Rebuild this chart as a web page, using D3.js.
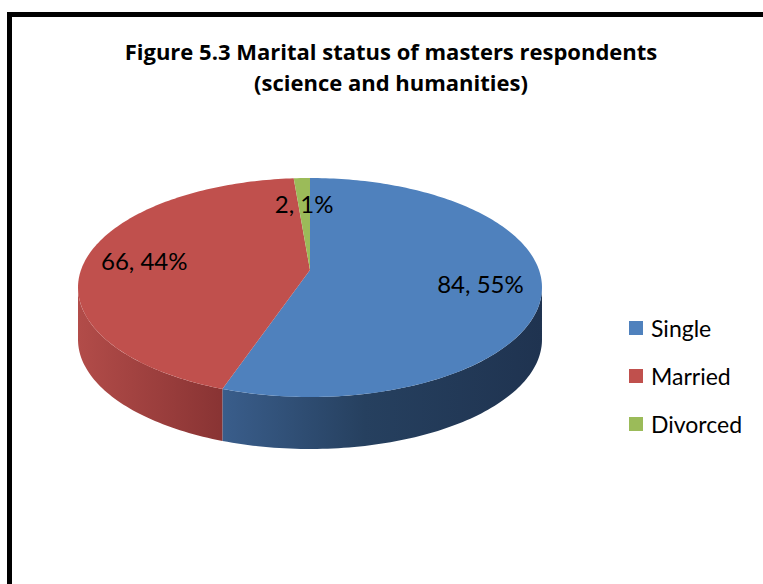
<!DOCTYPE html>
<html>
<head>
<meta charset="utf-8">
<script src="https://cdn.jsdelivr.net/npm/d3@7"></script>
<style>
  html, body { margin: 0; padding: 0; background: #fff; }
  svg { display: block; font-family: Lato, "Open Sans", sans-serif; }
</style>
</head>
<body>
<div id="chart"></div>
<script>
// data
const categories = ["Single", "Married", "Divorced"];
const counts = [84, 66, 2];
const percents = [55, 44, 1];

const titleLines = ["Figure 5.3 Marital status of masters respondents", "(science and humanities)"];

// styling
const topColors = ["#4f81bd", "#c0504d", "#9bbb59"];
const sideStops = [
    [["0%", "#3a5e8c"], ["45%", "#26405f"], ["100%", "#1f3350"]],
    [["0%", "#b24c49"], ["100%", "#883333"]],
    [["0%", "#7d9646"], ["100%", "#6a803a"]]
];

const width = 763, height = 584;
const cx = 310, cy = 270;     // apex of the slices
const B = 229, A = 106.7;     // horizontal / vertical radius
const k = -0.16;              // perspective
const depth = 52;

const svg = d3.select("#chart").append("svg")
    .attr("width", width)
    .attr("height", height);

// frame
svg.append("rect")
    .attr("x", 9.5).attr("y", 14.5)
    .attr("width", 800).attr("height", 620)
    .attr("fill", "#fff")
    .attr("stroke", "#000")
    .attr("stroke-width", 5);

// title
svg.append("text")
    .attr("x", 391).attr("y", 60)
    .attr("text-anchor", "middle")
    .attr("font-family", "'Open Sans', sans-serif")
    .attr("font-weight", "bold")
    .attr("font-size", 22)
    .selectAll("tspan")
    .data(titleLines)
    .enter().append("tspan")
    .attr("x", 391)
    .attr("dy", (d, i) => i === 0 ? 0 : 31)
    .text(d => d);

// angle (clockwise from 12 o'clock) + radius fraction -> screen point
function project(a, r, dz) {
    const u = r * Math.sin(a), v = -r * Math.cos(a);
    const w = 1 + k * v;
    return [cx + B * u / w, cy + A * v / w + (dz || 0)];
}

function arcPoints(a0, a1, dz) {
    const n = Math.max(2, Math.ceil(Math.abs(a1 - a0) / 0.02));
    const pts = [];
    for (let i = 0; i <= n; i++) pts.push(project(a0 + (a1 - a0) * i / n, 1, dz));
    return pts;
}

const pie = d3.pie().sort(null).startAngle(0).endAngle(2 * Math.PI);
const arcs = pie(counts);

// visible front wall lies between the right and left extremes of the ellipse
const frontStart = Math.acos(k);
const frontEnd = 2 * Math.PI - frontStart;

const defs = svg.append("defs");
sideStops.forEach((stops, i) => {
    const g = defs.append("linearGradient")
        .attr("id", "side" + i)
        .attr("gradientUnits", "userSpaceOnUse")
        .attr("x1", i === 1 ? cx - 232 : cx - 90).attr("y1", 0)
        .attr("x2", i === 1 ? cx - 85 : cx + 232).attr("y2", 0);
    stops.forEach(s => g.append("stop").attr("offset", s[0]).attr("stop-color", s[1]));
});

const line = d3.line();

// side walls
arcs.forEach((d, i) => {
    const a0 = Math.max(d.startAngle, frontStart);
    const a1 = Math.min(d.endAngle, frontEnd);
    if (a1 <= a0) return;
    const pts = arcPoints(a0, a1, 0).concat(arcPoints(a1, a0, depth));
    svg.append("path")
        .attr("d", line(pts) + "Z")
        .attr("fill", "url(#side" + i + ")");
});

// top faces
arcs.forEach((d, i) => {
    const pts = [[cx, cy]].concat(arcPoints(d.startAngle, d.endAngle, 0));
    svg.append("path")
        .attr("d", line(pts) + "Z")
        .attr("fill", topColors[i]);
});

// data labels
const labelR = [0.74, 0.74, 0.69];
arcs.forEach((d, i) => {
    const p = project((d.startAngle + d.endAngle) / 2, labelR[i], 0);
    svg.append("text")
        .attr("x", p[0]).attr("y", p[1])
        .attr("text-anchor", "middle")
        .attr("dominant-baseline", "central")
        .attr("font-size", 24)
        .attr("fill", "#000")
        .text(counts[i] + ", " + percents[i] + "%");
});

// legend
const legend = svg.append("g").attr("transform", "translate(629,321)");
const rows = legend.selectAll("g")
    .data(categories)
    .enter().append("g")
    .attr("transform", (d, i) => `translate(0,${i * 48})`);
rows.append("rect")
    .attr("width", 14).attr("height", 14)
    .attr("fill", (d, i) => topColors[i]);
rows.append("text")
    .attr("x", 22).attr("y", 7)
    .attr("dominant-baseline", "central")
    .attr("font-size", 23)
    .text(d => d);
</script>
</body>
</html>
